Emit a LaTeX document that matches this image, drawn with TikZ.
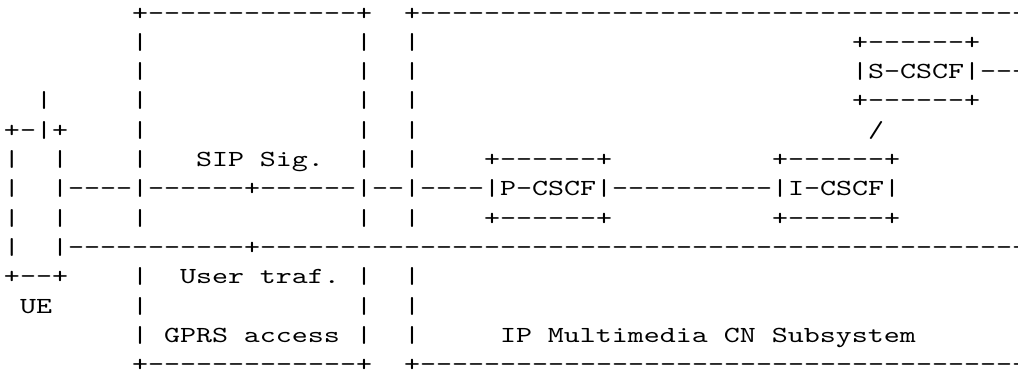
\documentclass[tikz,border=0pt]{standalone}
\usepackage{fontspec}
\newfontfamily\ascfont{lmmono10-regular.otf}[FakeStretch=1.3251]
\tikzset{
  asc/.style={anchor=base west, inner sep=0pt, outer sep=0pt,
    font=\ascfont\fontsize{23pt}{30pt}\selectfont, text=black}
}
\newcommand\cellat[4]{\node[asc] (#1) at ({4+16*#2},{20+29.33*#3}) {#4};}
\begin{document}
\begin{tikzpicture}[x=1pt,y=-1pt]
\useasboundingbox (0,0) rectangle (1018,370);
\clip (0,0) rectangle (1018,370);
% top borders
\cellat{gtop}{8}{0}{+-------------+}
\cellat{itop}{25}{0}{+---------------------------------------}
% vertical walls of the GPRS and IMS boxes
\foreach \r in {1,2,3,4,5,7,9,10,11}{
  \cellat{gl\r}{8}{\r}{|}
  \cellat{gr\r}{22}{\r}{|}
  \cellat{il\r}{25}{\r}{|}
}
% S-CSCF
\cellat{stop}{53}{1}{+------+}
\cellat{smid}{53}{2}{|S-CSCF|----}
\cellat{sbot}{53}{3}{+------+}
\cellat{slash}{54}{4}{/}
% UE
\cellat{ant}{2}{3}{|}
\cellat{uetop}{0}{4}{+-|+}
\foreach \r in {5,6,7,8}{
  \cellat{ul\r}{0}{\r}{|}
}
\cellat{ur5}{3}{5}{|}
\cellat{ur7}{3}{7}{|}
\cellat{uebot}{0}{9}{+--+}
\cellat{uelab}{1}{10}{UE}
% signalling row
\cellat{sip}{12}{5}{SIP Sig.}
\cellat{ptop}{30}{5}{+------+}
\cellat{ictop}{48}{5}{+------+}
\cellat{sigline}{3}{6}{|----|------+------|--|----|P-CSCF|----------|I-CSCF|}
\cellat{pbot}{30}{7}{+------+}
\cellat{icbot}{48}{7}{+------+}
% user traffic row
\cellat{trafline}{3}{8}{|-----------+-------------------------------------------------}
\cellat{user}{11}{9}{User traf.}
\cellat{gprs}{10}{11}{GPRS access}
\cellat{ims}{31}{11}{IP Multimedia CN Subsystem}
% bottom borders
\cellat{gbot}{8}{12}{+-------------+}
\cellat{ibot}{25}{12}{+---------------------------------------}
\end{tikzpicture}
\end{document}
